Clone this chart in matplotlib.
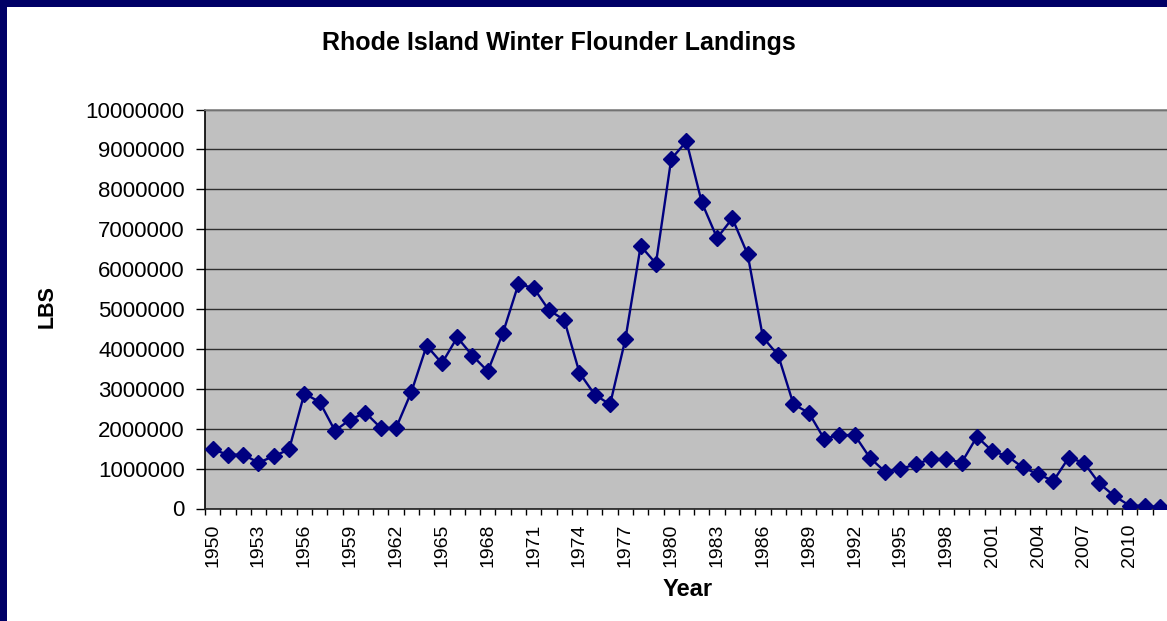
import matplotlib.pyplot as plt
from matplotlib.patches import Rectangle
from matplotlib.ticker import FixedLocator, FuncFormatter

# landings per year
years = list(range(1950, 2013))
lbs = [
    1480000, 1350000, 1350000, 1150000, 1310000, 1480000, 2880000, 2670000,
    1950000, 2230000, 2400000, 2020000, 2020000, 2920000, 4080000, 3640000,
    4290000, 3830000, 3440000, 4410000, 5620000, 5530000, 4970000, 4730000,
    3400000, 2850000, 2610000, 4240000, 6580000, 6140000, 8760000, 9200000,
    7670000, 6780000, 7270000, 6370000, 4290000, 3840000, 2610000, 2400000,
    1750000, 1840000, 1840000, 1270000, 920000, 990000, 1110000, 1240000,
    1240000, 1150000, 1800000, 1440000, 1310000, 1030000, 860000, 690000,
    1270000, 1150000, 630000, 310000, 70000, 70000, 30000,
]
label_years = list(range(1950, 2011, 3))
y_ticks = list(range(0, 10000001, 1000000))

W, H = 1167, 621
plt.rcParams['font.family'] = ['Liberation Sans', 'DejaVu Sans']

fig = plt.figure(figsize=(W / 100, H / 100), dpi=100)
fig.patch.set_facecolor('white')

# navy frame on top and left edges
fig.patches.append(Rectangle((0, 0), 7 / W, 1, transform=fig.transFigure,
                             facecolor='#000066', edgecolor='none'))
fig.patches.append(Rectangle((0, 1 - 7 / H), 1, 7 / H, transform=fig.transFigure,
                             facecolor='#000066', edgecolor='none'))

ax = fig.add_axes([205 / W, (H - 508.5) / H, 963 / W, 399 / H])
ax.set_facecolor('#C0C0C0')

ax.plot(years, lbs, color='#000080', lw=1.7, marker='D', ms=8,
        markerfacecolor='#000080', markeredgecolor='#000080', zorder=3)

ax.set_xlim(1949.5, 2012.5)
ax.set_ylim(0, 10000000)

ax.set_yticks(y_ticks)
ax.yaxis.set_major_formatter(FuncFormatter(lambda v, p: f"{int(v)}"))
ax.tick_params(axis='y', direction='out', length=6.5, width=1, pad=8,
               labelsize=16, color='#000000')
ax.grid(axis='y', color='#303030', lw=1)
ax.set_axisbelow(True)

ax.set_xticks(label_years)
ax.set_xticklabels([str(y) for y in label_years], rotation=90)
ax.xaxis.set_minor_locator(FixedLocator([y - 0.5 for y in years] + [2012.5]))
ax.tick_params(axis='x', which='major', length=0, pad=11, labelsize=14)
ax.tick_params(axis='x', which='minor', direction='out', length=4.5,
               width=1, color='#000000')

ax.spines['top'].set_color('#808080')
ax.spines['right'].set_visible(False)
ax.spines['left'].set_color('#000000')
ax.spines['bottom'].set_color('#202020')
for s in ax.spines.values():
    s.set_linewidth(1.2)

fig.text(559 / W, 1 - 43 / H, 'Rhode Island Winter Flounder Landings',
         ha='center', va='center', fontsize=18, fontweight='bold')
fig.text(47 / W, 1 - 307 / H, 'LBS', rotation=90, ha='center', va='center',
         fontsize=15.5, fontweight='bold')
fig.text(688 / W, 1 - 590 / H, 'Year', ha='center', va='center',
         fontsize=17, fontweight='bold')

fig.savefig('out.png', dpi=100)
